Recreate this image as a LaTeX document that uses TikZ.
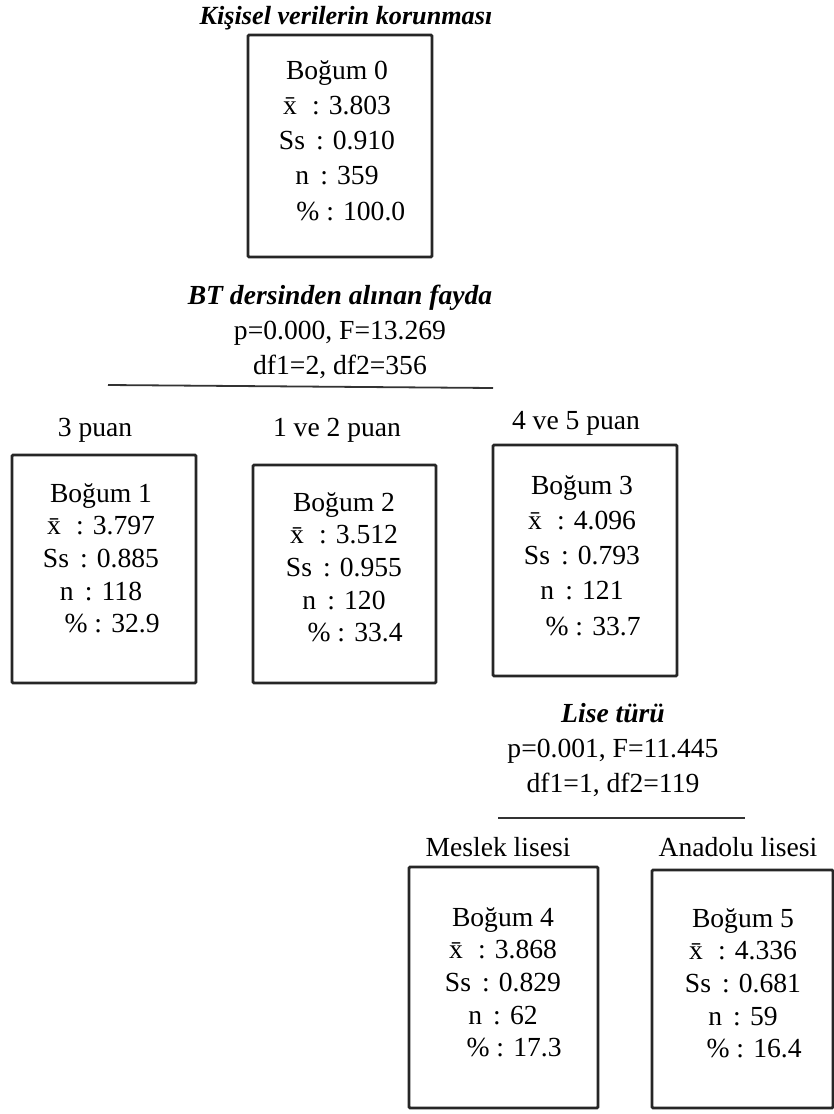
\documentclass[tikz,border=0pt]{standalone}
\usepackage{fontspec}
\setmainfont{Liberation Serif}

\begin{document}
\begin{tikzpicture}[x=0.5pt,y=-0.5pt,
    font=\fontsize{13.8}{16.3}\selectfont,
    bogum/.style={draw=black!85,line width=1.4pt,rounded corners=0.6pt,inner sep=0pt},
    istat/.style={anchor=north,align=center,inner sep=0pt},
    genis/.style={font=\fontsize{13.8}{17.6}\selectfont},
    dal/.style={inner sep=0pt},
    bolme/.style={align=center,inner sep=0pt,font=\fontsize{13.8}{17.5}\selectfont},
    cizgi/.style={line width=0.9pt,draw=black!80}]
    \useasboundingbox (0,0) rectangle (834,1114);

    % kok
    \node[inner sep=0pt,font=\fontsize{13.1}{16}\selectfont] (baslik) at (346,18) {\textbf{\textit{Kişisel verilerin korunması}}};
    \node[bogum,minimum width=92pt,minimum height=111pt] (B0) at (340,146) {};
    \node[istat,genis] (T0) at (337,60) {Boğum 0\\\={x}\hspace{0.55em}: 3.803\\Ss\hspace{0.4em}: 0.910\\n\hspace{0.4em}: 359\\\hspace*{1em}\% : 100.0};

    % birinci bolme
    \node[bolme] (BT) at (340,332) {\textbf{\textit{BT dersinden alınan fayda}}\\p=0.000, F=13.269\\df1=2, df2=356};
    \coordinate (C0a) at (108,385);
    \coordinate (C0b) at (493,388);
    \draw[cizgi] (C0a) -- (C0b);

    \node[dal] (L1) at (95,430)  {3 puan};
    \node[dal] (L2) at (337,430) {1 ve 2 puan};
    \node[dal] (L3) at (576,423) {4 ve 5 puan};

    \node[bogum,minimum width=92pt,minimum height=114pt] (B1) at (104,569) {};
    \node[bogum,minimum width=91.5pt,minimum height=109pt] (B2) at (344.5,574) {};
    \node[bogum,minimum width=92pt,minimum height=115.5pt] (B3) at (585,560.5) {};
    \node[istat] (T1) at (101,483) {Boğum 1\\\={x}\hspace{0.55em}: 3.797\\Ss\hspace{0.4em}: 0.885\\n\hspace{0.4em}: 118\\\hspace*{0.8em}\% : 32.9};
    \node[istat] (T2) at (344,492) {Boğum 2\\\={x}\hspace{0.55em}: 3.512\\Ss\hspace{0.4em}: 0.955\\n\hspace{0.4em}: 120\\\hspace*{0.8em}\% : 33.4};
    \node[istat,genis] (T3) at (582,475) {Boğum 3\\\={x}\hspace{0.55em}: 4.096\\Ss\hspace{0.4em}: 0.793\\n\hspace{0.4em}: 121\\\hspace*{0.8em}\% : 33.7};

    % ikinci bolme
    \node[bolme] (LT) at (613,750) {\textbf{\textit{Lise türü}}\\p=0.001, F=11.445\\df1=1, df2=119};
    \coordinate (C1a) at (498,818);
    \coordinate (C1b) at (745,818);
    \draw[cizgi] (C1a) -- (C1b);

    \node[dal] (L4) at (498,847) {Meslek lisesi};
    \node[dal] (L5) at (738,847) {Anadolu lisesi};

    \node[bogum,minimum width=94.5pt,minimum height=120.5pt] (B4) at (503.5,987.5) {};
    \node[bogum,minimum width=90.5pt,minimum height=119pt] (B5) at (742.5,989) {};
    \node[istat] (T4) at (503,907) {Boğum 4\\\={x}\hspace{0.55em}: 3.868\\Ss\hspace{0.4em}: 0.829\\n\hspace{0.4em}: 62\\\hspace*{0.8em}\% : 17.3};
    \node[istat] (T5) at (743,908) {Boğum 5\\\={x}\hspace{0.55em}: 4.336\\Ss\hspace{0.4em}: 0.681\\n\hspace{0.4em}: 59\\\hspace*{0.8em}\% : 16.4};
\end{tikzpicture}
\end{document}
